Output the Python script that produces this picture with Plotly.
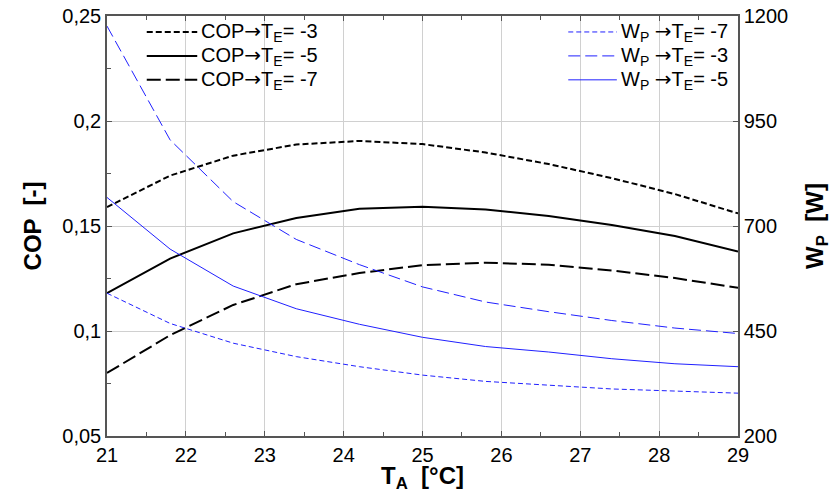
import plotly.graph_objects as go

# Ambient temperature T_A [°C]
t_ambient = [21.0, 21.8, 22.6, 23.4, 24.2, 25.0, 25.8, 26.6, 27.4, 28.2, 29.0]

# Coefficient of performance for three evaporator temperatures
cop_te_m3 = [0.159, 0.174, 0.1835, 0.1888, 0.1905, 0.189, 0.185, 0.1795, 0.1728, 0.1652, 0.156]
cop_te_m5 = [0.118, 0.1345, 0.1465, 0.1538, 0.1582, 0.1592, 0.1578, 0.1548, 0.1505, 0.1452, 0.1378]
cop_te_m7 = [0.080, 0.098, 0.1124, 0.1223, 0.1276, 0.1314, 0.1325, 0.1316, 0.1288, 0.1252, 0.1206]

# Pump power W_P [W]
wp_te_m7 = [540, 468, 421, 389, 365, 345, 330, 321, 312, 307, 302]
wp_te_m3 = [1176, 905, 758, 668, 608, 555, 519, 496, 475, 457, 444]
wp_te_m5 = [768, 645, 557, 503, 466, 435, 413, 400, 384, 372, 365]

x_ticks = [21, 22, 23, 24, 25, 26, 27, 28, 29]
cop_ticks = [0.05, 0.1, 0.15, 0.2, 0.25]
cop_ticktext = ["0,05", "0,1", "0,15", "0,2", "0,25"]
wp_ticks = [200, 450, 700, 950, 1200]

ARROW = '<span style="font-family:DejaVu Sans">→</span>'
cop_labels = ["COP" + ARROW + "T<sub>E</sub>= -3",
              "COP" + ARROW + "T<sub>E</sub>= -5",
              "COP" + ARROW + "T<sub>E</sub>= -7"]
wp_labels = ["W<sub>P</sub> " + ARROW + "T<sub>E</sub>= -7",
             "W<sub>P</sub> " + ARROW + "T<sub>E</sub>= -3",
             "W<sub>P</sub> " + ARROW + "T<sub>E</sub>= -5"]

FONT = "Liberation Sans, Arial, sans-serif"
BLUE = "#2020ff"

cop_styles = [dict(color="black", width=2, dash="6px,3px"),
              dict(color="black", width=2, dash="solid"),
              dict(color="black", width=2, dash="14px,5px")]
wp_styles = [dict(color=BLUE, width=1, dash="5px,3px"),
             dict(color=BLUE, width=1, dash="12px,5px"),
             dict(color=BLUE, width=1, dash="solid")]

fig = go.Figure()
for ys, st, name in zip([cop_te_m3, cop_te_m5, cop_te_m7], cop_styles, cop_labels):
    fig.add_trace(go.Scatter(x=t_ambient, y=ys, mode="lines", line=st, name=name,
                             showlegend=False, yaxis="y"))
for ys, st, name in zip([wp_te_m7, wp_te_m3, wp_te_m5], wp_styles, wp_labels):
    fig.add_trace(go.Scatter(x=t_ambient, y=ys, mode="lines", line=st, name=name,
                             showlegend=False, yaxis="y2"))

# Hand-built legends (longer line samples than the built-in legend)
row_y = [0.962, 0.905, 0.848]
shapes = []
annotations = []
for label, st, yy in zip(cop_labels, cop_styles, row_y):
    shapes.append(dict(type="line", xref="paper", yref="paper", x0=0.063, x1=0.143,
                       y0=yy, y1=yy, line=st))
    annotations.append(dict(xref="paper", yref="paper", x=0.146, y=yy, text=label,
                            showarrow=False, xanchor="left", yanchor="middle",
                            font=dict(size=20, color="black", family=FONT)))
for label, st, yy in zip(wp_labels, wp_styles, row_y):
    shapes.append(dict(type="line", xref="paper", yref="paper", x0=0.731, x1=0.808,
                       y0=yy, y1=yy, line=st))
    annotations.append(dict(xref="paper", yref="paper", x=0.811, y=yy, text=label,
                            showarrow=False, xanchor="left", yanchor="middle",
                            font=dict(size=20, color="black", family=FONT)))

axis_line = "#555555"
grid = "#d0d0d0"

fig.update_layout(
    width=832, height=493,
    margin=dict(l=107, r=94, t=16, b=57, autoexpand=False),
    paper_bgcolor="white", plot_bgcolor="white",
    font=dict(family=FONT, size=20, color="black"),
    shapes=shapes, annotations=annotations,
    xaxis=dict(
        range=[21, 29], tickvals=x_ticks, ticktext=[str(v) for v in x_ticks],
        automargin=False,
        showgrid=True, gridcolor=grid, gridwidth=1,
        showline=True, linecolor=axis_line, linewidth=1.5, mirror="ticks",
        ticks="inside", ticklen=5, tickcolor=axis_line,
        minor=dict(dtick=0.5, ticks="inside", ticklen=4, tickcolor=axis_line, showgrid=False),
        tickfont=dict(size=20, family=FONT),
        title=dict(text="<b>T<sub>A</sub>  [°C]</b>", font=dict(size=24, family=FONT), standoff=4),
        zeroline=False,
    ),
    yaxis=dict(
        range=[0.05, 0.25], tickvals=cop_ticks, ticktext=cop_ticktext,
        automargin=False,
        showgrid=True, gridcolor=grid, gridwidth=1,
        showline=True, linecolor=axis_line, linewidth=1.5, mirror=True,
        ticks="inside", ticklen=5, tickcolor=axis_line,
        minor=dict(dtick=0.025, ticks="inside", ticklen=4, tickcolor=axis_line, showgrid=False),
        tickfont=dict(size=20, family=FONT),
        title=dict(text="<b>COP  [-]</b>", font=dict(size=24, family=FONT), standoff=14),
        zeroline=False,
    ),
    yaxis2=dict(
        range=[200, 1200], tickvals=wp_ticks, ticktext=[str(v) for v in wp_ticks],
        automargin=False,
        overlaying="y", side="right", showgrid=False,
        showline=True, linecolor=axis_line, linewidth=1.5,
        ticks="inside", ticklen=5, tickcolor=axis_line,
        tickfont=dict(size=20, family=FONT),
        title=dict(text="<b>W<sub>P</sub>  [W]</b>", font=dict(size=24, family=FONT), standoff=20),
        zeroline=False,
    ),
)

fig.write_html("out.html")
